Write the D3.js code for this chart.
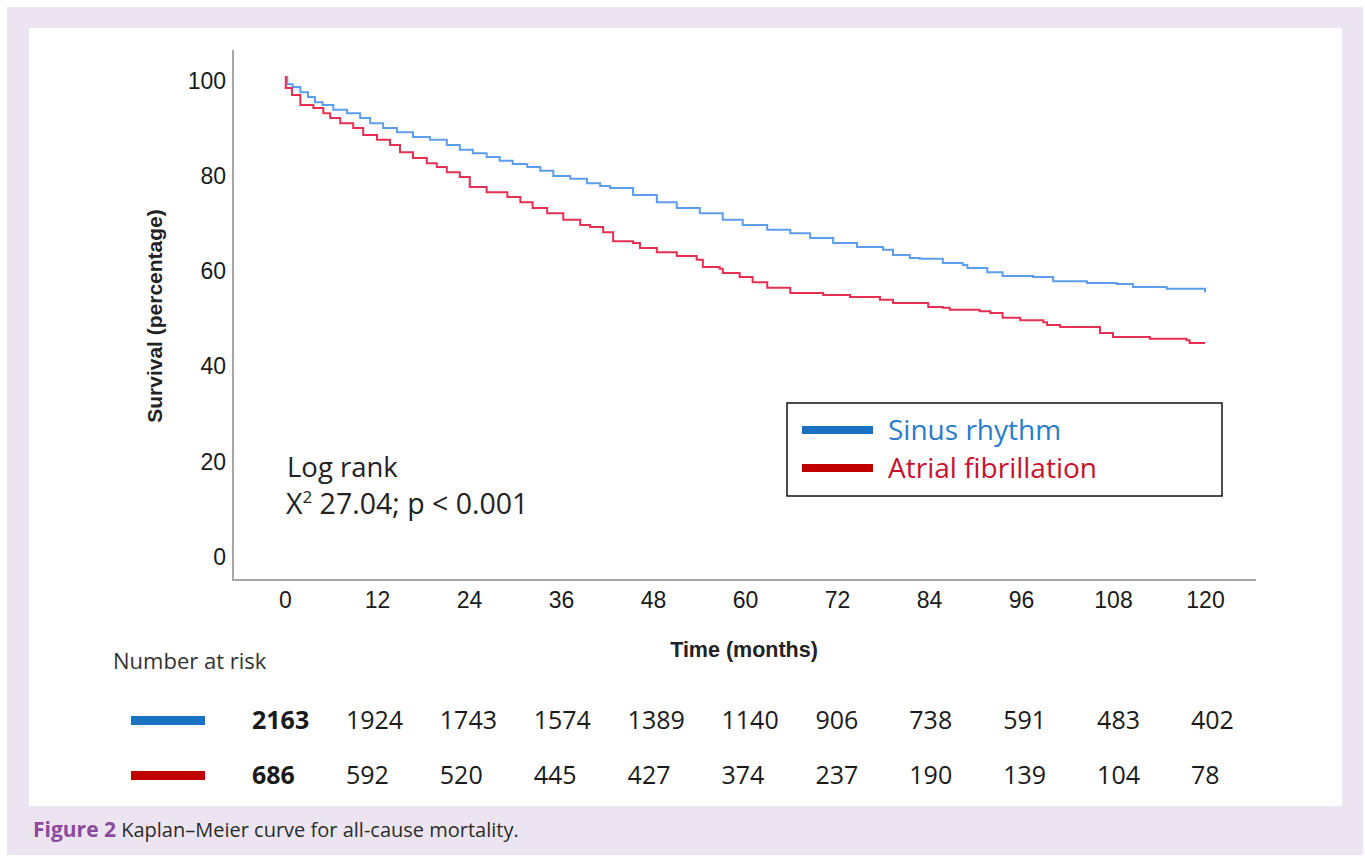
<!DOCTYPE html>
<html>
<head>
<meta charset="utf-8">
<script src="https://cdn.jsdelivr.net/npm/d3@7"></script>
<style>
  html, body { margin: 0; padding: 0; background: #ffffff; }
  svg { display: block; }
</style>
</head>
<body>
<svg id="chart" width="1365" height="856"></svg>
<script>
// ---------------- DATA ----------------
const monthTicks = [0, 12, 24, 36, 48, 60, 72, 84, 96, 108, 120];
const survivalTicks = [0, 20, 40, 60, 80, 100];

const sinusMonths = [0, 0.3, 1.0, 2.0, 3.0, 3.9, 4.9, 6.3, 8.1, 9.8, 11.1, 12.8, 14.6, 16.7, 18.9, 21.1, 22.8, 24.5, 26.3, 28.0, 29.7, 31.6, 33.3, 35.0, 37.2, 39.4, 41.1, 42.4, 45.4, 48.5, 51.1, 54.1, 57.1, 59.7, 62.9, 65.9, 68.5, 71.5, 74.6, 78.0, 79.3, 81.5, 82.8, 85.8, 88.4, 89.0, 91.6, 93.6, 97.6, 100.2, 104.6, 108.5, 110.6, 115.0, 120];
const sinusSurvival = [100, 98.5, 97.9, 96.8, 95.8, 94.7, 94.1, 93.1, 92.4, 91.4, 90.3, 89.3, 88.4, 87.4, 86.8, 85.7, 84.7, 84.0, 83.2, 82.4, 81.7, 81.1, 80.3, 79.2, 78.6, 77.7, 77.1, 76.7, 75.2, 73.7, 72.5, 71.4, 70.0, 68.9, 67.9, 67.2, 66.2, 65.1, 64.3, 63.7, 62.6, 62.0, 61.8, 60.9, 60.5, 59.9, 59.0, 58.2, 58.0, 57.1, 56.7, 56.5, 55.9, 55.5, 54.8];

const afMonths = [0, 0.1, 0.9, 2.0, 3.7, 5.0, 5.9, 7.2, 8.9, 10.2, 12.0, 13.7, 15.0, 16.7, 18.5, 19.8, 21.1, 22.8, 24.1, 26.3, 29.0, 30.7, 32.3, 34.2, 36.3, 38.5, 39.8, 41.5, 42.8, 45.4, 46.3, 48.5, 51.1, 53.7, 54.5, 56.7, 57.1, 59.3, 61.0, 62.9, 65.9, 70.2, 73.7, 77.6, 79.3, 83.9, 85.8, 86.7, 90.6, 92.0, 93.6, 95.9, 98.9, 99.4, 101.1, 106.3, 108.0, 112.8, 117.6, 118.0, 120];
const afSurvival = [100, 97.7, 96.2, 94.1, 93.5, 92.4, 91.4, 90.3, 89.3, 87.8, 86.8, 85.7, 84.2, 83.0, 81.9, 81.1, 80.0, 79.0, 76.9, 75.8, 74.8, 73.7, 72.5, 71.4, 70.0, 68.9, 68.5, 67.4, 65.5, 65.1, 64.1, 63.2, 62.4, 61.6, 60.1, 59.7, 58.8, 58.0, 56.9, 55.7, 54.6, 54.2, 53.8, 53.2, 52.5, 51.7, 51.5, 51.1, 50.8, 50.4, 49.4, 48.9, 48.5, 47.9, 47.5, 46.2, 45.4, 45.0, 44.7, 44.1, 44.1];

const seriesNames = ["Sinus rhythm", "Atrial fibrillation"];
const riskSinus = [2163, 1924, 1743, 1574, 1389, 1140, 906, 738, 591, 483, 402];
const riskAF = [686, 592, 520, 445, 427, 374, 237, 190, 139, 104, 78];

const xTitle = "Time (months)";
const yTitle = "Survival (percentage)";
const statLine1 = "Log rank";
const statLine2 = ["X", "2", " 27.04; p < 0.001"];
const riskTitle = "Number at risk";
const captionBold = "Figure 2";
const captionText = " Kaplan–Meier curve for all-cause mortality.";

// ---------------- STYLE ----------------
const lavender = "#ece5f1";
const curveBlue = "#5c9ded";
const curveRed = "#e63052";
const legBlue = "#1a70c2";
const legRed = "#c00000";
const textBlue = "#2a7ccc";
const textRed = "#c8102e";
const axisGray = "#a6a6a6";
const plotFont = "'Liberation Sans', Arial, sans-serif";
const bodyFont = "'Open Sans', sans-serif";

const svg = d3.select("#chart");

// background frame
svg.append("rect").attr("x", 7).attr("y", 7).attr("width", 1356).attr("height", 848).attr("fill", lavender);
svg.append("rect").attr("x", 29).attr("y", 28).attr("width", 1313).attr("height", 778).attr("fill", "#ffffff");

// scales
const x = d3.scaleLinear().domain([0, 120]).range([285, 1205]);
const y = d3.scaleLinear().domain([0, 100]).range([553, 77]);

// axis lines
svg.append("line").attr("x1", 233).attr("x2", 233).attr("y1", 50).attr("y2", 581)
  .attr("stroke", axisGray).attr("stroke-width", 2);
svg.append("line").attr("x1", 232).attr("x2", 1256).attr("y1", 580).attr("y2", 580)
  .attr("stroke", axisGray).attr("stroke-width", 2);

// y axis labels
const yAxis = svg.append("g").attr("transform", "translate(226,4)")
  .call(d3.axisLeft(y).tickValues(survivalTicks).tickSize(0).tickPadding(0));
yAxis.select(".domain").remove();
yAxis.selectAll("text").attr("font-family", plotFont).attr("font-size", 23).attr("fill", "#1a1a1a");

// x axis labels
const xAxis = svg.append("g").attr("transform", "translate(0,592)")
  .call(d3.axisBottom(x).tickValues(monthTicks).tickSize(0).tickPadding(0));
xAxis.select(".domain").remove();
xAxis.selectAll("text").attr("font-family", plotFont).attr("font-size", 23).attr("fill", "#1a1a1a");

// axis titles
svg.append("text").attr("x", 744).attr("y", 657).attr("text-anchor", "middle")
  .attr("font-family", plotFont).attr("font-weight", "bold").attr("font-size", 21.5).attr("fill", "#222")
  .text(xTitle);
svg.append("text").attr("transform", "translate(162,316) rotate(-90)").attr("text-anchor", "middle")
  .attr("font-family", plotFont).attr("font-weight", "bold").attr("font-size", 21).attr("fill", "#222")
  .text(yTitle);

// curves
const line = d3.line().x(d => x(d[0])).y(d => y(d[1])).curve(d3.curveStepAfter);
const sinusData = sinusMonths.map((m, i) => [m, sinusSurvival[i]]);
const afData = afMonths.map((m, i) => [m, afSurvival[i]]);
svg.append("path").datum(sinusData).attr("d", line)
  .attr("fill", "none").attr("stroke", curveBlue).attr("stroke-width", 2);
svg.append("path").datum(afData).attr("d", line)
  .attr("fill", "none").attr("stroke", curveRed).attr("stroke-width", 2);

// stats text
svg.append("text").attr("x", 287).attr("y", 477)
  .attr("font-family", bodyFont).attr("font-size", 27.5).attr("fill", "#222").text(statLine1);
const st = svg.append("text").attr("x", 286).attr("y", 514)
  .attr("font-family", bodyFont).attr("font-size", 28.5).attr("fill", "#222");
st.append("tspan").text(statLine2[0]);
st.append("tspan").attr("font-size", 17).attr("dy", -11).text(statLine2[1]);
st.append("tspan").attr("dy", 11).text(statLine2[2]);

// legend
svg.append("rect").attr("x", 787).attr("y", 403).attr("width", 435).attr("height", 93)
  .attr("fill", "#fff").attr("stroke", "#111").attr("stroke-width", 1.5);
const legColors = [legBlue, legRed];
const legText = [textBlue, textRed];
const lg = svg.append("g").selectAll("g").data(seriesNames).join("g")
  .attr("transform", (d, i) => `translate(0,${430 + i * 38})`);
lg.append("rect").attr("x", 802).attr("y", -4).attr("width", 71).attr("height", 8)
  .attr("fill", (d, i) => legColors[i]);
lg.append("text").attr("x", 888).attr("y", 10)
  .attr("font-family", bodyFont).attr("font-size", 28)
  .attr("fill", (d, i) => legText[i]).text(d => d);

// number at risk
svg.append("text").attr("x", 113).attr("y", 669)
  .attr("font-family", bodyFont).attr("font-size", 22).attr("fill", "#333").text(riskTitle);
const col = d3.scaleLinear().domain([0, monthTicks.length - 1]).range([252, 1191]);
const riskRows = [riskSinus, riskAF];
riskRows.forEach((row, r) => {
  const cy = 720 + r * 55;
  svg.append("rect").attr("x", 131).attr("y", cy - 4).attr("width", 74).attr("height", 9)
    .attr("fill", legColors[r]);
  svg.append("g").selectAll("text").data(row).join("text")
    .attr("x", (d, i) => col(i)).attr("y", cy + 9)
    .attr("font-family", bodyFont).attr("font-size", 25).attr("fill", "#1a1a1a")
    .attr("font-weight", (d, i) => i === 0 ? "bold" : "normal")
    .text(d => d);
});

// caption
const cap = svg.append("text").attr("x", 33).attr("y", 837)
  .attr("font-family", bodyFont).attr("font-size", 20).attr("fill", "#2b2b2b");
cap.append("tspan").attr("font-weight", "bold").attr("fill", "#8c4a9e").attr("font-size", 21).text(captionBold);
cap.append("tspan").text(captionText);
</script>
</body>
</html>
